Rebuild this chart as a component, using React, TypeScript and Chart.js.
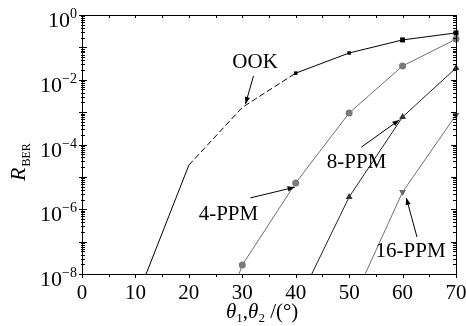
import React, { useEffect, useRef } from "react";
import { Chart, registerables } from "chart.js";

Chart.register(...registerables);

// ---- data ----
const ookTheta = [12, 20, 30, 40, 50, 60, 70];
const ookBer = [1e-8, 2.3e-5, 1.4e-3, 1.6e-2, 6.7e-2, 0.17, 0.28];
const ookRadius = [0, 0, 0, 2.5, 2.5, 3.5, 3.5];

const ppm4Theta = [29.4, 30, 40, 50, 60, 70];
const ppm4Ber = [1e-8, 1.9e-8, 6.5e-6, 9.4e-4, 2.66e-2, 0.18];
const ppm4Radius = [0, 3.5, 3.5, 3.5, 3.5, 3.5];

const ppm8Theta = [43, 50, 60, 70];
const ppm8Ber = [1e-8, 2.4e-6, 7.1e-4, 2.3e-2];
const ppm8Radius = [0, 4, 4, 4];

const ppm16Theta = [53, 60, 70];
const ppm16Ber = [1e-8, 3.4e-6, 8.1e-4];
const ppm16Radius = [0, 4, 4];

const xMajorTicks = [0, 10, 20, 30, 40, 50, 60, 70];
const yLabelExponents = [0, -2, -4, -6, -8];

const FONT = '"Liberation Serif"';

function pts(xs: number[], ys: number[]) {
  return xs.map((x, i) => ({ x, y: ys[i] }));
}

function arrow(ctx: CanvasRenderingContext2D, x1: number, y1: number, x2: number, y2: number) {
  ctx.beginPath();
  ctx.moveTo(x1, y1);
  ctx.lineTo(x2, y2);
  ctx.stroke();
  const a = Math.atan2(y2 - y1, x2 - x1);
  const L = 7, W = 2.6;
  ctx.beginPath();
  ctx.moveTo(x2, y2);
  ctx.lineTo(x2 - L * Math.cos(a) + W * Math.sin(a), y2 - L * Math.sin(a) - W * Math.cos(a));
  ctx.lineTo(x2 - L * Math.cos(a) - W * Math.sin(a), y2 - L * Math.sin(a) + W * Math.cos(a));
  ctx.closePath();
  ctx.fill();
}

const decorPlugin = {
  id: "decor",
  afterDraw(chart: any) {
    const ctx: CanvasRenderingContext2D = chart.ctx;
    const { left, right, top, bottom } = chart.chartArea;
    const xs = chart.scales.x;
    const ys = chart.scales.y;
    ctx.save();
    ctx.strokeStyle = "#000";
    ctx.fillStyle = "#000";
    ctx.lineWidth = 1;
    // frame
    ctx.strokeRect(Math.round(left) + 0.5, Math.round(top) + 0.5, Math.round(right - left), Math.round(bottom - top));

    // x ticks (every 5)
    ctx.beginPath();
    for (let v = 0; v <= 70; v += 5) {
      const px = Math.round(xs.getPixelForValue(v)) + 0.5;
      const major = v % 10 === 0;
      ctx.moveTo(px, bottom);
      ctx.lineTo(px, bottom + (major ? 4 : 3));
      ctx.moveTo(px, top);
      ctx.lineTo(px, top + 3);
    }
    // y ticks
    for (let e = -8; e <= 0; e++) {
      const py = Math.round(ys.getPixelForValue(Math.pow(10, e))) + 0.5;
      ctx.moveTo(left - 3, py);
      ctx.lineTo(left + 5, py);
      ctx.moveTo(right - 5, py);
      ctx.lineTo(right, py);
      if (e < 0) {
        for (let m = 2; m <= 9; m++) {
          const pm = Math.round(ys.getPixelForValue(m * Math.pow(10, e))) + 0.5;
          ctx.moveTo(left - 1, pm);
          ctx.lineTo(left + 3, pm);
          ctx.moveTo(right - 3, pm);
          ctx.lineTo(right, pm);
        }
      }
    }
    ctx.stroke();

    // x tick labels
    ctx.font = `21px ${FONT}`;
    ctx.textAlign = "center";
    ctx.textBaseline = "alphabetic";
    xMajorTicks.forEach((v) => {
      ctx.fillText(String(v), xs.getPixelForValue(v), bottom + 25);
    });

    // y tick labels 10^e
    yLabelExponents.forEach((e) => {
      const py = ys.getPixelForValue(Math.pow(10, e));
      const sup = e === 0 ? "0" : "\u2212" + String(-e);
      ctx.font = `14px ${FONT}`;
      const sw = ctx.measureText(sup).width;
      const rx = left - 5;
      ctx.textAlign = "right";
      ctx.fillText(sup, rx, py + 3);
      ctx.font = `22px ${FONT}`;
      ctx.fillText("10", rx - sw, py + 12);
    });

    // y title R_BER
    ctx.save();
    ctx.translate(25, 181);
    ctx.rotate(-Math.PI / 2);
    ctx.textAlign = "left";
    ctx.font = `italic 22px ${FONT}`;
    ctx.fillText("R", 0, 0);
    const rw = ctx.measureText("R").width;
    ctx.font = `12px ${FONT}`;
    ctx.fillText("BER", rw + 1, 5);
    ctx.restore();

    // x title θ1,θ2 /(°)
    {
      let x = 226;
      const by = 318;
      ctx.textAlign = "left";
      const part = (t: string, f: string, dy: number) => {
        ctx.font = f;
        ctx.fillText(t, x, by + dy);
        x += ctx.measureText(t).width;
      };
      part("\u03b8", `italic 21px ${FONT}`, 0);
      part("1", `13px ${FONT}`, 4);
      part(",", `21px ${FONT}`, 0);
      part("\u03b8", `italic 21px ${FONT}`, 0);
      part("2", `13px ${FONT}`, 4);
      part(" /(\u00b0)", `21px ${FONT}`, 0);
    }

    // annotations (in data coordinates)
    const P = (tx: number, lb: number) => [xs.getPixelForValue(tx), ys.getPixelForValue(Math.pow(10, lb))];
    ctx.font = `21px ${FONT}`;
    ctx.textAlign = "center";
    const label = (t: string, tx: number, lb: number) => {
      const [px, py] = P(tx, lb);
      ctx.fillText(t, px, py);
    };
    label("OOK", 32.4, -1.64);
    label("4-PPM", 27.4, -6.33);
    label("8-PPM", 51.4, -4.73);
    label("16-PPM", 61.5, -7.47);

    ctx.lineWidth = 1;
    const ar = (a: number, b: number, c: number, d: number) => {
      const [x1, y1] = P(a, b);
      const [x2, y2] = P(c, d);
      arrow(ctx, x1, y1, x2, y2);
    };
    ar(32.1, -1.88, 30.6, -2.75);
    ar(31.5, -5.65, 39.8, -5.32);
    ar(52.3, -4.08, 59.4, -3.24);
    ar(62.7, -6.86, 60.7, -5.65);

    ctx.restore();
  },
};

export default function App() {
  const ref = useRef<HTMLCanvasElement | null>(null);
  useEffect(() => {
    if (!ref.current) return;
    const chart = new Chart(ref.current, {
      type: "line",
      data: {
        datasets: [
          {
            label: "OOK",
            data: pts(ookTheta, ookBer),
            borderColor: "#000",
            backgroundColor: "#000",
            borderWidth: 1,
            pointStyle: "rect",
            pointRadius: ookRadius,
            pointBorderWidth: 0,
            clip: false,
            segment: {
              borderDash: (c: any) => (c.p0.parsed.x >= 20 && c.p0.parsed.x < 40 ? [6, 3] : undefined),
            },
          } as any,
          {
            label: "4-PPM",
            data: pts(ppm4Theta, ppm4Ber),
            borderColor: "#6e6e6e",
            backgroundColor: "#7a7a7a",
            borderWidth: 1,
            pointStyle: "circle",
            pointRadius: ppm4Radius,
            pointBorderWidth: 0,
            clip: false,
          },
          {
            label: "8-PPM",
            data: pts(ppm8Theta, ppm8Ber),
            borderColor: "#222",
            backgroundColor: "#333",
            borderWidth: 1,
            pointStyle: "triangle",
            pointRadius: ppm8Radius,
            pointBorderWidth: 0,
            clip: false,
          },
          {
            label: "16-PPM",
            data: pts(ppm16Theta, ppm16Ber),
            borderColor: "#707070",
            backgroundColor: "#6a6a6a",
            borderWidth: 1,
            pointStyle: "triangle",
            rotation: 180,
            pointRadius: ppm16Radius,
            pointBorderWidth: 0,
            clip: false,
          } as any,
        ],
      },
      options: {
        animation: false,
        responsive: false,
        layout: { padding: { left: 82, right: 10, top: 15, bottom: 52 } },
        plugins: { legend: { display: false }, tooltip: { enabled: false } },
        scales: {
          x: { type: "linear", min: 0, max: 70, display: false },
          y: { type: "logarithmic", min: 1e-8, max: 1, display: false },
        },
      },
      plugins: [decorPlugin],
    });
    let alive = true;
    const redraw = () => {
      if (alive) chart.draw();
    };
    const fonts: any = (document as any).fonts;
    if (fonts && fonts.ready) fonts.ready.then(redraw).catch(() => {});
    const timers = [50, 150, 300].map((t) => setTimeout(redraw, t));
    return () => {
      alive = false;
      timers.forEach(clearTimeout);
      chart.destroy();
    };
  }, []);
  return (
    <div style={{ position: "absolute", left: 0, top: 0, width: 466, height: 326, background: "#fff" }}>
      <canvas
        ref={ref}
        width={466}
        height={326}
        style={{ position: "absolute", left: 0, top: 0, width: 466, height: 326, display: "block" }}
      />
    </div>
  );
}
